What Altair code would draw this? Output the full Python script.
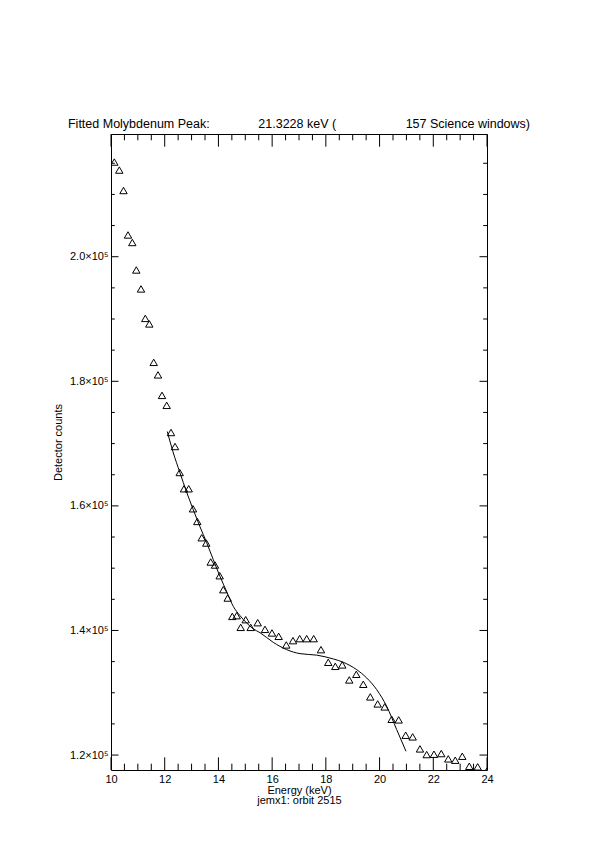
import altair as alt
import pandas as pd

# Observed detector counts (energy keV, counts)
energy = [10.123, 10.309, 10.465, 10.633, 10.793, 10.942, 11.117, 11.277, 11.426, 11.590,
          11.750, 11.899, 12.074, 12.234, 12.383, 12.558, 12.718, 12.893, 13.053, 13.213,
          13.377, 13.548, 13.712, 13.872, 14.047, 14.181, 14.345, 14.516, 14.680, 14.829,
          15.015, 15.201, 15.462, 15.733, 15.994, 16.243, 16.526, 16.776, 17.025, 17.286,
          17.547, 17.818, 18.090, 18.351, 18.611, 18.872, 19.133, 19.393, 19.654, 19.929,
          20.190, 20.451, 20.711, 20.972, 21.232, 21.504, 21.754, 22.025, 22.297, 22.558,
          22.818, 23.079, 23.340, 23.652, 23.987]
counts = [215200, 213910, 210630, 203490, 202285, 197870, 194830, 190100, 189210, 183040,
          181030, 177740, 176140, 171780, 169530, 165360, 162750, 162750, 159540, 157500,
          154890, 154040, 150990, 150510, 148790, 146550, 145210, 142260, 142380, 140500,
          141730, 140500, 141250, 140180, 139600, 139060, 137680, 138370, 138690, 138690,
          138690, 136920, 134890, 134240, 134470, 132060, 132960, 131360, 129340, 128210,
          127730, 125740, 125650, 123180, 122920, 120990, 120080, 120130, 120240, 119390,
          119170, 119810, 118200, 118110, 117350]

# Fitted curve
fit_energy = [12.096, 12.308, 12.569, 12.811, 13.064, 13.313, 13.563, 13.809, 14.058, 14.307,
              14.553, 14.803, 15.052, 15.287, 15.547, 16.042, 16.541, 17.036, 17.658, 18.276,
              18.649, 19.147, 19.520, 19.892, 20.264, 20.637, 20.983]
fit_counts = [171940, 168680, 165310, 162270, 159380, 156650, 154090, 151360, 148680, 146230,
              143870, 142380, 141200, 140290, 139650, 138090, 136920, 136280, 136040, 135430,
              134890, 133710, 132380, 130510, 127830, 124090, 120610]

# Tick positions
x_major = [10, 12, 14, 16, 18, 20, 22, 24]
x_minor = [10.5, 11, 11.5, 12.5, 13, 13.5, 14.5, 15, 15.5, 16.5, 17, 17.5,
           18.5, 19, 19.5, 20.5, 21, 21.5, 22.5, 23, 23.5]
y_major = [120000, 140000, 160000, 180000, 200000]
y_minor = [125000, 130000, 135000, 145000, 150000, 155000, 165000, 170000, 175000,
           185000, 190000, 195000, 205000, 210000, 215000]

X_DOMAIN = [10, 24]
Y_DOMAIN = [117600, 219700]
W, H = 376, 636
FONT = "Liberation Sans"

xs = alt.Scale(domain=X_DOMAIN, nice=False, zero=False)
ys = alt.Scale(domain=Y_DOMAIN, nice=False, zero=False)

pts = pd.DataFrame({"e": energy, "c": counts})
fit = pd.DataFrame({"e": fit_energy, "c": fit_counts})

points = alt.Chart(pts).mark_point(
    shape="triangle-up", filled=False, color="black", strokeWidth=1, size=55, opacity=1, clip=True
).encode(
    x=alt.X("e:Q", scale=xs,
            axis=alt.Axis(values=x_major, format="d", ticks=False, domain=False, grid=False,
                          labelFlush=False,
                          labelFont=FONT, labelFontSize=11, labelColor="black", labelPadding=3,
                          title=["Energy (keV)", "jemx1: orbit 2515"], titleFont=FONT,
                          titleFontSize=11, titleFontWeight="normal", titleColor="black",
                          titleLineHeight=10.5, titlePadding=0)),
    y=alt.Y("c:Q", scale=ys,
            axis=alt.Axis(values=y_major, ticks=False, domain=False, grid=False,
                          labelFlush=False,
                          labelExpr="format(datum.value/100000, '.1f') + '×10⁵'",
                          labelFont=FONT, labelFontSize=11, labelColor="black", labelPadding=3,
                          title="Detector counts", titleFont=FONT, titleFontSize=11,
                          titleFontWeight="normal", titleColor="black", titlePadding=6,
                          titleY=308)),
)

line = alt.Chart(fit).mark_line(color="black", strokeWidth=1, interpolate="monotone").encode(
    x=alt.X("e:Q", scale=xs), y=alt.Y("c:Q", scale=ys)
)

def xticks(vals, length):
    d = pd.DataFrame({"v": vals})
    b = alt.Chart(d).mark_rule(color="black", strokeWidth=1).encode(
        x=alt.X("v:Q", scale=xs), y=alt.value(H), y2=alt.value(H - length))
    t = alt.Chart(d).mark_rule(color="black", strokeWidth=1).encode(
        x=alt.X("v:Q", scale=xs), y=alt.value(0), y2=alt.value(length))
    return [b, t]

def yticks(vals, length):
    d = pd.DataFrame({"v": vals})
    l = alt.Chart(d).mark_rule(color="black", strokeWidth=1).encode(
        y=alt.Y("v:Q", scale=ys), x=alt.value(0), x2=alt.value(length))
    r = alt.Chart(d).mark_rule(color="black", strokeWidth=1).encode(
        y=alt.Y("v:Q", scale=ys), x=alt.value(W), x2=alt.value(W - length))
    return [l, r]

layers = [points, line] + xticks(x_major, 12.7) + xticks(x_minor, 6.3) \
    + yticks(y_major, 7.5) + yticks(y_minor, 3.8)

title_text = ("Fitted Molybdenum Peak:" + "\u00a0" * 14 + "21.3228 keV (" + "\u00a0" * 20
              + "157 Science windows)")

chart = alt.layer(*layers).properties(
    width=W, height=H,
    title=alt.TitleParams(title_text, font=FONT, fontSize=12.5, fontWeight="normal",
                          color="black", anchor="middle", offset=3),
    autosize=alt.AutoSizeParams(type="none"),
    padding={"left": 103, "top": 126, "right": 100, "bottom": 64},
    background="white",
).configure_view(stroke="black", strokeWidth=1)

chart.save("out.html", embed_options={"renderer": "svg", "actions": False})
